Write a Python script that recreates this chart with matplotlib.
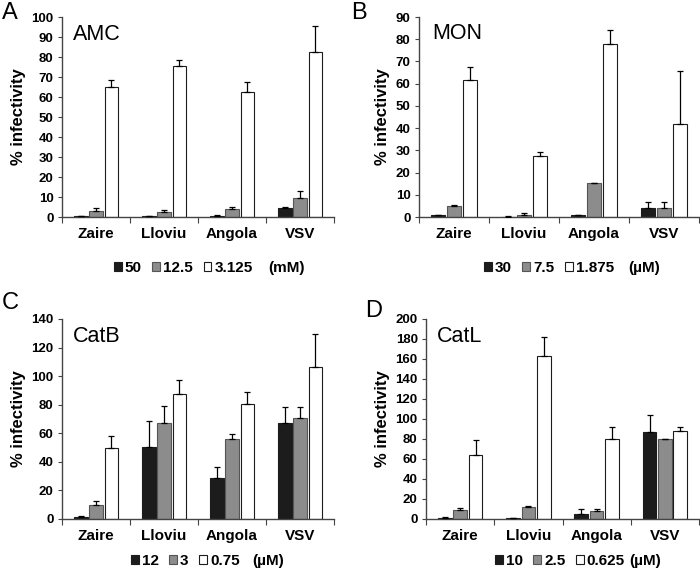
import matplotlib
matplotlib.use("Agg")
import matplotlib.pyplot as plt
from matplotlib.patches import Rectangle
import numpy as np

plt.rcParams['font.family'] = ['Liberation Sans', 'DejaVu Sans']

viruses = ["Zaire", "Lloviu", "Angola", "VSV"]

# panel A - AMC (mM)
amc_doses = ["50", "12.5", "3.125"]
amc_mean = [[0.3, 0.3, 0.7, 4.5],
            [3.2, 2.3, 3.9, 9.5],
            [64.8, 75.3, 62.5, 82.3]]
amc_err = [[0.2, 0.2, 0.4, 0.3],
           [1.3, 1.2, 0.9, 3.3],
           [3.5, 3.2, 5.0, 13.0]]

# panel B - MON (uM)
mon_doses = ["30", "7.5", "1.875"]
mon_mean = [[0.8, 0.2, 0.7, 3.9],
            [4.8, 1.0, 15.1, 4.2],
            [61.6, 27.6, 77.7, 42.0]]
mon_err = [[0.3, 0.1, 0.3, 2.8],
           [0.4, 0.7, 0.4, 2.5],
           [5.7, 1.5, 6.6, 23.5]]

# panel C - CatB (uM)
catb_doses = ["12", "3", "0.75"]
catb_mean = [[1.5, 50.7, 28.8, 67.0],
             [10.0, 67.0, 56.0, 70.9],
             [50.0, 87.4, 80.7, 106.3]]
catb_err = [[0.5, 17.9, 7.5, 11.6],
            [2.3, 11.8, 3.8, 7.7],
            [8.0, 9.6, 8.1, 23.2]]

# panel D - CatL (uM)
catl_doses = ["10", "2.5", "0.625"]
catl_mean = [[1.3, 0.7, 5.0, 87.0],
             [9.0, 12.3, 8.3, 80.0],
             [64.0, 162.5, 79.7, 87.7]]
catl_err = [[0.7, 0.5, 5.3, 16.6],
            [1.5, 0.5, 2.0, 0.3],
            [15.0, 19.9, 12.7, 4.0]]

colors = ["#1c1c1c", "#8c8c8c", "white"]
edges = ["#1c1c1c", "#555555", "#1c1c1c"]
offsets = [-0.225, 0.0, 0.225]
width = 0.2

fig = plt.figure(figsize=(7, 5.69), dpi=100)


def draw_panel(rect, means, errs, ymax, ystep, name, letter, name_pos, letter_pos,
               doses, unit, leg_pos, unit_x):
    ax = fig.add_axes(rect)
    x = np.arange(len(viruses)) + 0.5
    for i in range(3):
        ax.bar(x + offsets[i], means[i], width, color=colors[i],
               edgecolor=edges[i], linewidth=0.8, zorder=2)
        ax.errorbar(x + offsets[i], means[i],
                    yerr=[np.zeros(len(viruses)), errs[i]],
                    fmt="none", ecolor="black", elinewidth=0.9,
                    capsize=2.5, capthick=0.9, zorder=3)
    ax.set_xlim(0, len(viruses))
    ax.set_ylim(0, ymax)
    ax.set_yticks(np.arange(0, ymax + 1, ystep))
    ax.set_xticks(np.arange(len(viruses) + 1))
    ax.set_xticklabels([])
    ax.set_xticks(x, minor=True)
    ax.set_xticklabels(viruses, minor=True, fontsize=11, fontweight="bold")
    ax.tick_params(axis="x", which="minor", length=0, pad=7)
    ax.tick_params(axis="x", which="major", length=4, direction="out",
                   color="#444444")
    ax.tick_params(axis="y", length=3, direction="out", pad=3,
                   labelsize=9.5, color="#444444")
    for lbl in ax.get_yticklabels():
        lbl.set_fontweight("bold")
    for s in ["top", "right"]:
        ax.spines[s].set_visible(False)
    for s in ["left", "bottom"]:
        ax.spines[s].set_color("#444444")
        ax.spines[s].set_linewidth(1.0)
    ax.set_ylabel("% infectivity", fontsize=12, fontweight="bold", labelpad=4)
    ax.text(name_pos[0], name_pos[1], name, transform=ax.transAxes,
            fontsize=15.5, va="baseline", ha="left")
    fig.text(letter_pos[0], letter_pos[1], letter, fontsize=17,
             va="baseline", ha="left")
    handles = [Rectangle((0, 0), 1, 1, facecolor=colors[i], edgecolor=edges[i],
                         linewidth=0.8) for i in range(3)]
    fig.legend(handles, doses, loc="center left",
               bbox_to_anchor=leg_pos, ncol=3, frameon=False, borderpad=0,
               borderaxespad=0, handlelength=0.5, handleheight=0.5,
               handletextpad=0.2, columnspacing=0.7,
               prop={"weight": "bold", "size": 11})
    fig.text(unit_x, leg_pos[1], unit, fontsize=11, fontweight="bold",
             va="center", ha="left")
    return ax


draw_panel([0.0886, 0.6186, 0.3886, 0.3515], amc_mean, amc_err, 100, 10,
           "AMC", "A", (0.04, 0.885), (0.003, 1 - 19 / 569),
           amc_doses, "(mM)", (114 / 700, 1 - 268 / 569), 268 / 700)
draw_panel([0.5986, 0.6186, 0.40, 0.3515], mon_mean, mon_err, 90, 10,
           "MON", "B", (0.046, 0.89), (0.502, 1 - 19 / 569),
           mon_doses, "(\u00b5M)", (484 / 700, 1 - 268 / 569), 628 / 700)
draw_panel([0.0886, 0.0879, 0.3886, 0.3515], catb_mean, catb_err, 140, 20,
           "CatB", "C", (0.04, 0.885), (0.003, 1 - 309 / 569),
           catb_doses, "(\u00b5M)", (131 / 700, 1 - 561 / 569), 252 / 700)
draw_panel([0.6086, 0.0879, 0.39, 0.3515], catl_mean, catl_err, 200, 20,
           "CatL", "D", (0.04, 0.885), (0.521, 1 - 317 / 569),
           catl_doses, "(\u00b5M)", (495 / 700, 1 - 561 / 569), 629 / 700)

fig.savefig("out.png", dpi=100)
